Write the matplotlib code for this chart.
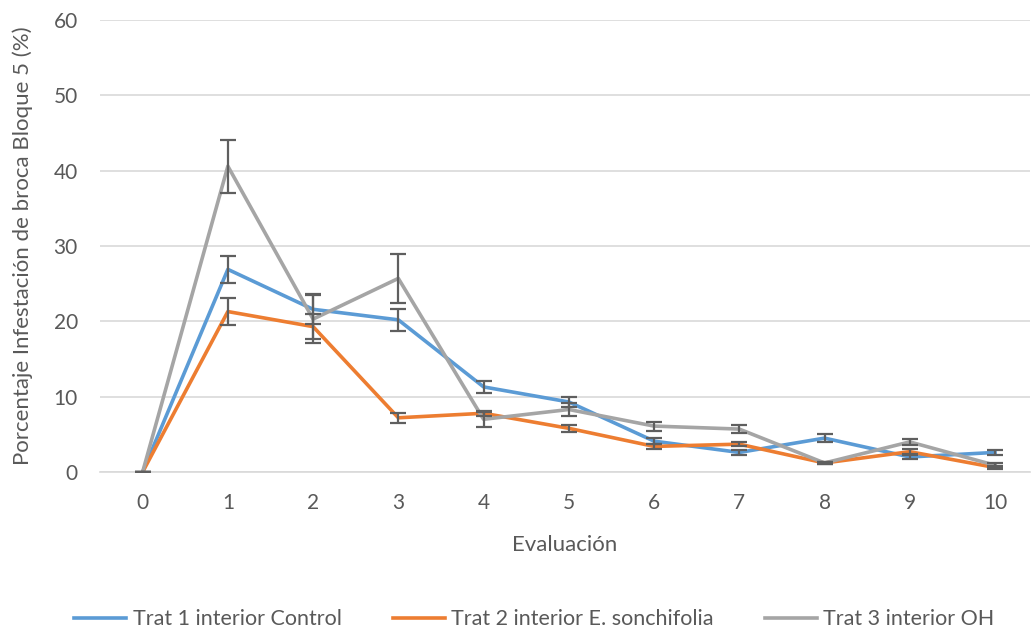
import matplotlib.pyplot as plt

plt.rcParams['font.family'] = ['Lato', 'DejaVu Sans']

# evaluation rounds and infestation percentages per treatment
evaluacion = [0, 1, 2, 3, 4, 5, 6, 7, 8, 9, 10]
trat1 = [0, 26.9, 21.6, 20.2, 11.3, 9.3, 4.1, 2.6, 4.5, 2.0, 2.6]
trat1_err = [0, 1.75, 2.0, 1.45, 0.8, 0.7, 0.4, 0.3, 0.5, 0.3, 0.3]
trat2 = [0, 21.3, 19.3, 7.2, 7.8, 5.8, 3.4, 3.7, 1.2, 2.7, 0.6]
trat2_err = [0, 1.8, 1.7, 0.65, 0.3, 0.5, 0.3, 0.3, 0.15, 0.3, 0.2]
trat3 = [0, 40.6, 20.3, 25.7, 7.0, 8.3, 6.1, 5.7, 1.2, 4.0, 0.9]
trat3_err = [0, 3.5, 3.2, 3.3, 1.0, 0.9, 0.6, 0.5, 0.15, 0.4, 0.3]

series = [
    ("Trat 1 interior Control", trat1, trat1_err, "#5B9BD5"),
    ("Trat 2 interior E. sonchifolia", trat2, trat2_err, "#ED7D31"),
    ("Trat 3 interior OH", trat3, trat3_err, "#A5A5A5"),
]

text_color = "#595959"

fig = plt.figure(figsize=(10.32, 6.33), dpi=100)
ax = fig.add_axes([0.0969, 0.2543, 0.9011, 0.7141])

for name, vals, err, color in series:
    ax.plot(evaluacion, vals, color=color, lw=2.6, label=name, zorder=3)
    ax.errorbar(evaluacion, vals, yerr=err, fmt="none", ecolor="#5F5F5F",
                elinewidth=1.6, capsize=6, capthick=1.6, zorder=4)

ax.set_xlim(-0.5, 10.41)
ax.set_ylim(0, 60)
ax.set_yticks(range(0, 61, 10))
ax.set_xticks(evaluacion)
ax.grid(axis="y", color="#D9D9D9", lw=1.2)
ax.set_axisbelow(True)
for s in ["top", "right", "left"]:
    ax.spines[s].set_visible(False)
ax.spines["bottom"].set_color("#D9D9D9")
ax.spines["bottom"].set_linewidth(1.2)
ax.tick_params(length=0, labelsize=15, colors=text_color)
ax.tick_params(axis="x", pad=15)
ax.tick_params(axis="y", pad=16)

ax.set_xlabel("Evaluación", fontsize=16, color=text_color, labelpad=16)
ax.set_ylabel("Porcentaje Infestación de broca Bloque 5 (%)", fontsize=16,
              color=text_color, labelpad=15)

leg = fig.legend(loc="lower center", bbox_to_anchor=(0.518, -0.025), ncol=3,
                 frameon=False, fontsize=15.5, handlelength=2.4,
                 handletextpad=0.3, columnspacing=2.4)
for t in leg.get_texts():
    t.set_color(text_color)

fig.savefig("out.png", dpi=100)
